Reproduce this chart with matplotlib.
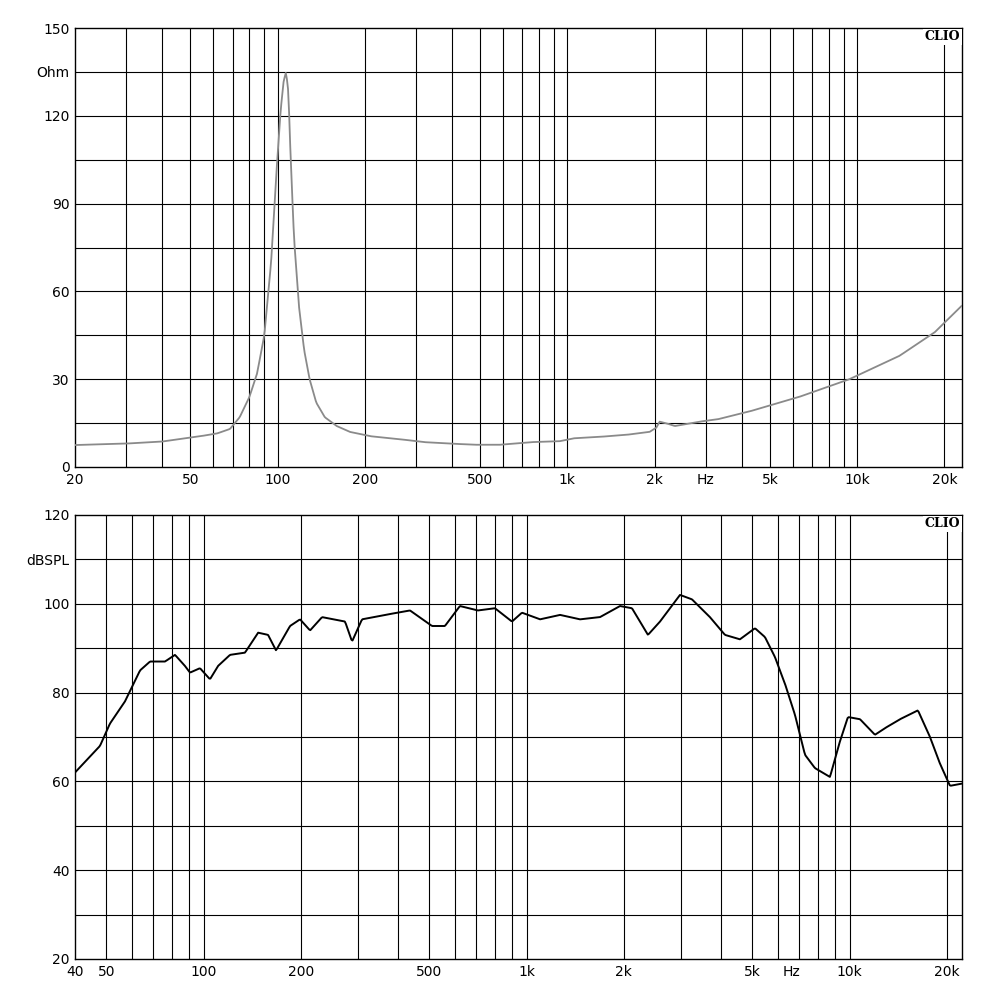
import matplotlib
matplotlib.use("Agg")
import matplotlib.pyplot as plt
import numpy as np

imp_f = [20,30,40,54,62,68.5,74,80,85,90,95,99,102.5,105,107,109,111,114,118.5,123.5,129,136,145.6,160,177.5,210,264,320,393,480,584,750,939,1050,1292,1600,1922,2030,2080,2218,2350,2860,3300,4255,6325,9400,14000,18500,22900]
imp_v = [7.5,8,8.7,10.5,11.5,13,17,24,32,45,70,100,122,132,135,128,105,78,55,40,30,22,17,14,12,10.5,9.5,8.5,8,7.6,7.6,8.5,8.8,9.8,10.3,11,12,13.5,15.5,14.8,14,15.5,16.3,19,24,30,38,46,55]

spl_f = [40,47.8,51.3,57.1,63.6,68.3,76,81.6,87.6,90.8,97.5,104.7,110.9,120.8,134.4,147.5,158.4,167.7,185.3,199,213.7,232.8,274.3,288.3,309.5,364.8,435.8,509.8,559,622,707.5,798.5,901.6,968,1101,1270,1465,1688,1948,2121,2377,2590,2987,3253,3697,4115,4580,5097,5474,5878,6312,6778,7280,7816,8700,9340,9890,10780,11990,12880,14330,16290,17750,19060,20470,22290]
spl_v = [62,68,73,78,85,87,87,88.5,86,84.5,85.5,83,86,88.5,89,93.5,93,89.5,95,96.5,94,97,96,91.5,96.5,97.5,98.5,95,95,99.5,98.5,99,96,98,96.5,97.5,96.5,97,99.5,99,93,96,102,101,97,93,92,94.5,92.5,88,82,75,66,63,61,69,74.5,74,70.5,72,74,76,70,64,59,59.5]

def smooth(f, v, n=800):
    lf = np.log10(f)
    x = np.linspace(lf[0], lf[-1], n)
    return 10**x, np.interp(x, lf, v)

def fmt(x):
    return f"{int(x/1000)}k" if x >= 1000 else f"{int(x)}"

fig = plt.figure(figsize=(10, 10), dpi=100)
ax1 = fig.add_axes([0.075, 0.533, 0.887, 0.439])
ax2 = fig.add_axes([0.075, 0.041, 0.887, 0.444])

def setup(ax, fmin, fmax, ymin, ymax, ystep, ylabels, unit, unit_y, hz_pos, xlabels):
    ax.set_xscale("log")
    ax.set_xlim(fmin, fmax)
    ax.set_ylim(ymin, ymax)
    grid = []
    for dec in [10, 100, 1000, 10000]:
        for m in range(1, 10):
            g = dec * m
            if fmin < g < fmax:
                grid.append(g)
    for g in grid:
        ax.axvline(g, color="black", lw=0.8)
    for y in np.arange(ymin + ystep, ymax, ystep):
        ax.axhline(y, color="black", lw=0.8)
    ax.set_xticks(xlabels + [hz_pos])
    ax.set_xticklabels([fmt(x) for x in xlabels] + ["Hz"])
    ax.minorticks_off()
    ax.set_yticks(ylabels + [unit_y])
    ax.set_yticklabels([str(y) for y in ylabels] + [unit])
    ax.tick_params(length=0, labelsize=10, pad=4)
    for s in ax.spines.values():
        s.set_linewidth(1)
    ax.text(0.998, 0.995, "CLIO", transform=ax.transAxes, ha="right", va="top",
            fontsize=9, fontweight="bold", family="DejaVu Serif",
            bbox=dict(facecolor="white", edgecolor="none", pad=1))

setup(ax1, 20, 23000, 0, 150, 15, [0, 30, 60, 90, 120, 150], "Ohm", 135, 3000,
      [20, 50, 100, 200, 500, 1000, 2000, 5000, 10000, 20000])
setup(ax2, 40, 22300, 20, 120, 10, [20, 40, 60, 80, 100, 120], "dBSPL", 6600,
      [40, 50, 100, 200, 500, 1000, 2000, 5000, 10000, 20000]) if False else None
setup(ax2, 40, 22300, 20, 120, 10, [20, 40, 60, 80, 100, 120], "dBSPL", 110, 6600,
      [40, 50, 100, 200, 500, 1000, 2000, 5000, 10000, 20000])

x, y = smooth(imp_f, imp_v)
ax1.plot(x, y, color="#8a8a8a", lw=1.3, zorder=5)
x, y = smooth(spl_f, spl_v)
ax2.plot(x, y, color="black", lw=1.4, zorder=5)

fig.savefig("out.png", dpi=100, facecolor="white")
